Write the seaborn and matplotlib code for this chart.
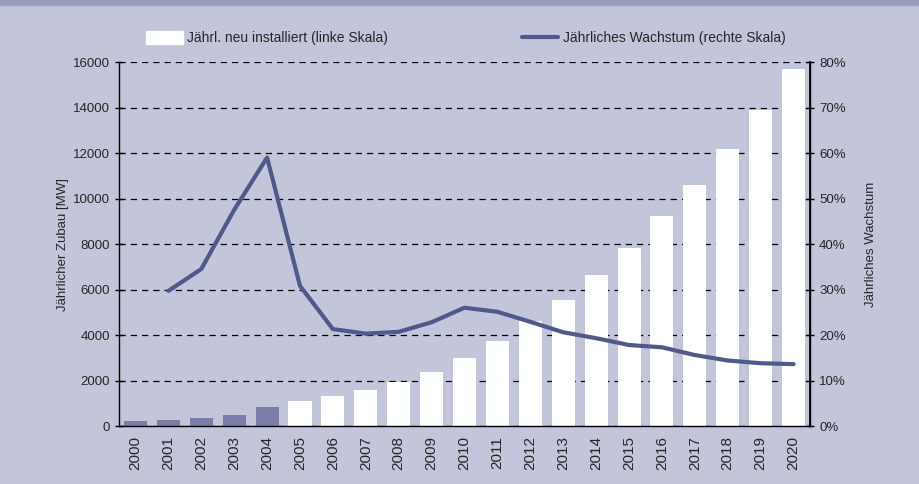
import numpy as np
import pandas as pd
import matplotlib.pyplot as plt
import seaborn as sns
from matplotlib.patches import Patch, Rectangle
from matplotlib.lines import Line2D
from matplotlib.ticker import FuncFormatter, FixedLocator

# Daten
jahre = [str(j) for j in range(2000, 2021)]
zubau_mw = [220, 264, 350, 500, 850, 1110, 1330, 1580, 1950, 2370, 2990,
            3740, 4615, 5540, 6640, 7820, 9230, 10590, 12170, 13890, 15700]
wachstum = [np.nan, 29.7, 34.5, 47.5, 59.0, 30.8, 21.3, 20.3, 20.7, 22.8, 26.0,
            25.1, 22.9, 20.6, 19.3, 17.8, 17.3, 15.6, 14.4, 13.8, 13.6]

bg = "#c3c5db"
dunkel = "#7a7ea8"
linie = "#4f5a8b"

sns.set_theme(style="white")
plt.rcParams["font.family"] = ["Liberation Sans", "DejaVu Sans"]

fig = plt.figure(figsize=(9.19, 4.84), dpi=100, facecolor=bg)
fig.patches.append(Rectangle((0, 0.99), 1, 0.01, transform=fig.transFigure,
                             color="#9b9dc2", zorder=0))
ax = fig.add_axes([0.1295, 0.1198, 0.7519, 0.7521])
ax.set_facecolor(bg)

farben = [dunkel] * 5 + ["white"] * 16
df = pd.DataFrame({"jahr": jahre, "mw": zubau_mw})
sns.barplot(data=df, x="jahr", y="mw", hue="jahr", palette=farben,
            legend=False, width=0.7, saturation=1, linewidth=0, ax=ax, zorder=2)

ax.set_ylim(0, 16000)
ax.set_xlim(-0.5, len(jahre) - 0.5)
ax.set_yticks(range(0, 16001, 2000))
ax.yaxis.grid(True, linestyle=(0, (5, 4)), color="black", linewidth=0.9)
ax.set_axisbelow(True)
ax.set_xlabel("")
ax.set_ylabel("Jährlicher Zubau [MW]", fontsize=9.5, labelpad=3)
ax.tick_params(axis="x", which="major", length=0, labelsize=11, rotation=90, pad=7)
ax.xaxis.set_minor_locator(FixedLocator(np.arange(-0.5, len(jahre), 1)))
ax.tick_params(axis="x", which="minor", length=7, direction="inout", width=1, color="black")
ax.tick_params(axis="y", length=6, direction="inout", width=1, color="black", labelsize=9.5)
for s in ["left", "bottom", "right"]:
    ax.spines[s].set_color("black")
    ax.spines[s].set_linewidth(1)
ax.spines["top"].set_visible(False)

ax2 = ax.twinx()
dl = pd.DataFrame({"pos": np.arange(len(jahre)), "w": wachstum}).dropna()
sns.lineplot(data=dl, x="pos", y="w", color=linie, linewidth=3, ax=ax2, zorder=3)
ax2.set_ylim(0, 80)
ax2.set_yticks(range(0, 81, 10))
ax2.yaxis.set_major_formatter(FuncFormatter(lambda v, p: f"{int(v)}%"))
ax2.set_ylabel("Jährliches Wachstum", fontsize=9.5, labelpad=14)
ax2.set_xlabel("")
ax2.tick_params(axis="y", length=6, direction="inout", width=1, color="black", labelsize=9.5)
ax2.spines["top"].set_visible(False)
ax2.spines["right"].set_color("black")
ax2.spines["left"].set_visible(False)
ax2.spines["bottom"].set_visible(False)

handles = [Patch(facecolor="white", edgecolor="white"),
           Line2D([0], [0], color=linie, linewidth=3)]
labels = ["Jährl. neu installiert (linke Skala)", "Jährliches Wachstum (rechte Skala)"]
fig.legend(handles, labels, loc="center", bbox_to_anchor=(0.507, 0.921), ncol=2,
           frameon=False, fontsize=10, columnspacing=9.7, handlelength=2.6,
           handleheight=1.0, handletextpad=0.3)

plt.savefig("out.png", dpi=100, facecolor=bg)
plt.close()
